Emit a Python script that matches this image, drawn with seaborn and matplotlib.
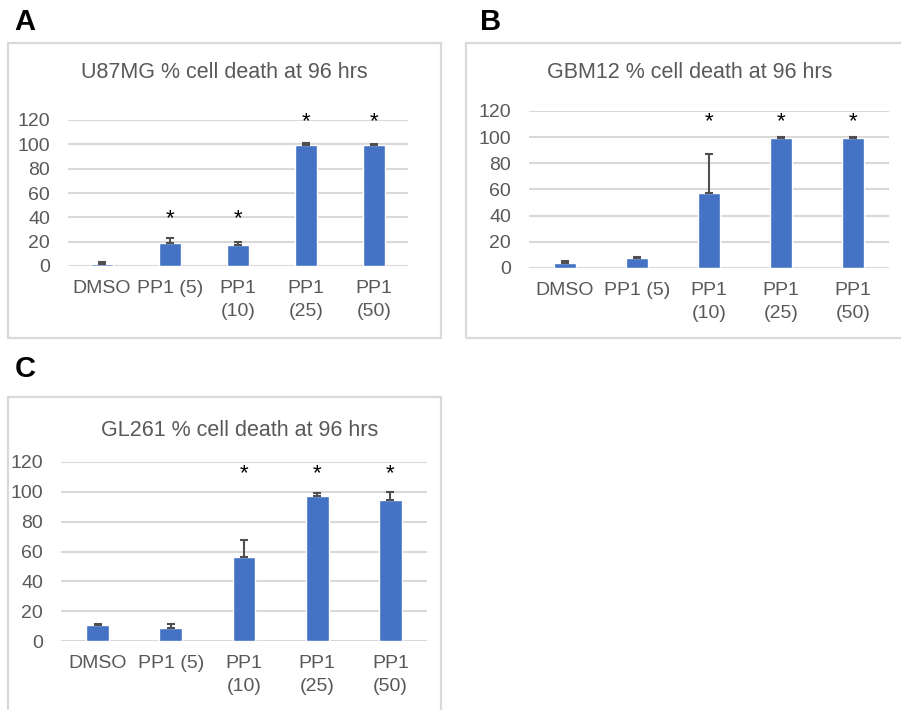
import matplotlib
matplotlib.use('Agg')
import matplotlib.pyplot as plt
from matplotlib.patches import Rectangle
import pandas as pd
import seaborn as sns

# Data
groups = ['DMSO', 'PP1 (5)', 'PP1\n(10)', 'PP1\n(25)', 'PP1\n(50)']

u87_mean = [2, 19, 17, 99.5, 99.5]
u87_err = [1, 4, 3, 2, 0.5]
u87_star = [None, 39, 39, 119, 119]

gbm_mean = [4, 7.5, 57.5, 99.5, 99.5]
gbm_err = [1, 1, 29.5, 0.5, 0.5]
gbm_star = [None, None, 112, 112, 112]

gl_mean = [10.5, 9, 56.5, 97.5, 94.5]
gl_err = [1, 2.5, 11.5, 2, 5.5]
gl_star = [None, None, 112, 112, 112]

BLUE = '#4472C4'
GRID = '#D9D9D9'
TXT = '#595959'

sns.set_style('white')
plt.rcParams['font.family'] = ['Liberation Sans', 'DejaVu Sans']

W, H = 901, 710
fig = plt.figure(figsize=(W / 100, H / 100), dpi=100)


def px_axes(x0, y0, x1, y1):
    # pixel box (top-left origin) -> figure axes
    return fig.add_axes([x0 / W, 1 - y1 / H, (x1 - x0) / W, (y1 - y0) / H])


def frame(x0, y0, x1, y1):
    fig.patches.append(Rectangle((x0 / W, 1 - y1 / H), (x1 - x0) / W, (y1 - y0) / H,
                                 transform=fig.transFigure, fill=False,
                                 edgecolor=GRID, linewidth=1.6))


def panel(ax, means, errs, stars, title, title_xy):
    df = pd.DataFrame({'group': groups, 'value': means})
    sns.barplot(data=df, x='group', y='value', color=BLUE, width=0.31,
                saturation=1, ax=ax, zorder=3)
    ax.errorbar(range(len(groups)), means, yerr=[[0] * len(errs), errs], fmt='none',
                ecolor='#505050', elinewidth=1.5, capsize=3, capthick=1.5, zorder=4)
    for i, s in enumerate(stars):
        if s is not None:
            ax.text(i, s, '*', ha='center', va='center', fontsize=16, color='black')
    ax.set_ylim(0, 120)
    ax.set_xlim(-0.5, len(groups) - 0.5)
    ax.set_yticks(range(0, 121, 20))
    ax.yaxis.grid(True, color=GRID, linewidth=1.5, zorder=0)
    ax.set_axisbelow(True)
    for sp in ax.spines.values():
        sp.set_visible(False)
    ax.tick_params(axis='both', length=0, labelsize=14, labelcolor=TXT)
    ax.tick_params(axis='x', pad=10)
    ax.tick_params(axis='y', pad=13)
    ax.set_xlabel('')
    ax.set_ylabel('')
    ax.set_facecolor('none')
    for lab in ax.get_xticklabels():
        lab.set_linespacing(1.45)
        lab.set_verticalalignment('top')
    fig.text(title_xy[0] / W, 1 - title_xy[1] / H, title, ha='center', va='center',
             fontsize=15.5, color=TXT)


# frames
frame(8, 43, 441, 338)
frame(466, 43, 905, 338)
frame(8, 397, 441, 715)

# panel letters
for lab, (x, y) in zip(['A', 'B', 'C'], [(14, 22), (480, 22), (15, 369)]):
    fig.text(x / W, 1 - y / H, lab, ha='left', va='center', fontsize=21,
             fontweight='bold', color='black')

axA = px_axes(68, 120, 408, 266)
panel(axA, u87_mean, u87_err, u87_star, 'U87MG % cell death at 96 hrs', (224, 73))

axB = px_axes(529, 111, 889, 268)
panel(axB, gbm_mean, gbm_err, gbm_star, 'GBM12 % cell death at 96 hrs', (690, 73))

axC = px_axes(61, 462, 427, 641)
panel(axC, gl_mean, gl_err, gl_star, 'GL261 % cell death at 96 hrs', (240, 431))

fig.savefig('out.png', dpi=100, facecolor='white')
